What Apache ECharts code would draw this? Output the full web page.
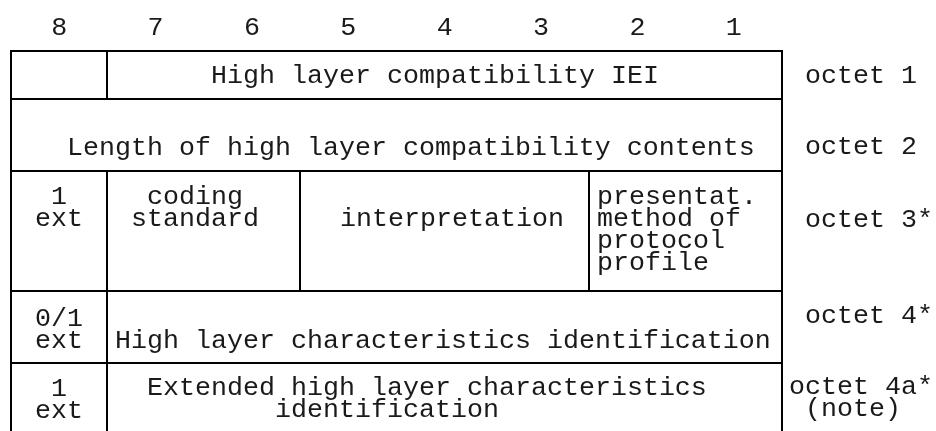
<!DOCTYPE html>
<html><head><meta charset="utf-8">
<script src="https://cdn.jsdelivr.net/npm/echarts@6/dist/echarts.min.js"></script>
<style>html,body{margin:0;padding:0;background:#fff}#c{width:936px;height:431px}</style>
</head><body><div id="c"></div>
<script>
// ---- content ----
const bitLabels = ['8','7','6','5','4','3','2','1'];
const octetLabels = [' octet 1', ' octet 2', ' octet 3*', ' octet 4*', 'octet 4a*\n (note)'];
// each cell: [first bit, last bit, text]
const row1Cells = [[8, 8, ''], [7, 1, '      High layer compatibility IEI']];
const row2Cells = [[8, 1, '   Length of high layer compatibility contents']];
const row3Cells = [[8, 8, '  1\n ext'], [7, 6, '  coding\n standard'], [5, 3, '  interpretation'], [2, 1, 'presentat.\nmethod of\nprotocol\nprofile']];
const row4Cells = [[8, 8, ' 0/1\n ext'], [7, 1, 'High layer characteristics identification']];
const row5Cells = [[8, 8, '  1\n ext'], [7, 1, '  Extended high layer characteristics\n          identification']];
const rows = [row1Cells, row2Cells, row3Cells, row4Cells, row5Cells];

// ---- layout (px) ----
const rowHeights = [48, 72, 120, 72, 120];
const cellTextMid = [[24.5, 24.5], [48.5], [26, 26, 48, 26], [27.5, 49.5], [25.5, 24.5]];
const octetTextMid = [25, 48, 49, 24.5, 24];
const FONT = "'Courier New', 'Liberation Mono', monospace";
const FS = 26.67, LH = 22, PAD = 8;
const rowTops = [];
rowHeights.reduce((acc, h, i) => { rowTops[i] = acc; return acc + h; }, 0);

const cellData = [];
rows.forEach((r, ri) => r.forEach((c, ci) => cellData.push([ri, ci])));

const chart = echarts.init(document.getElementById('c'), null, {renderer: 'canvas'});
chart.setOption({
  animation: false,
  backgroundColor: '#fff',
  grid: {left: 11, top: 51, width: 771, height: 380, containLabel: false, outerBoundsMode: 'none'},
  xAxis: [
    {type: 'value', min: 0, max: 8, show: false},
    {type: 'category', position: 'top', data: bitLabels, boundaryGap: true,
     axisLine: {show: false}, axisTick: {show: false}, splitLine: {show: false},
     axisLabel: {color: '#1a1a1a', fontFamily: FONT, fontSize: FS, margin: 10}}
  ],
  yAxis: {type: 'value', min: 0, max: 380, inverse: true, show: false},
  series: [
    {
      type: 'custom', xAxisIndex: 0, yAxisIndex: 0, data: cellData,
      renderItem: function (params, api) {
        const ri = api.value(0), ci = api.value(1);
        const cell = rows[ri][ci];
        const p0 = api.coord([8 - cell[0], rowTops[ri]]);
        const p1 = api.coord([9 - cell[1], rowTops[ri] + rowHeights[ri]]);
        const x0 = Math.round(p0[0]), y0 = Math.round(p0[1]);
        const x1 = Math.round(p1[0]), y1 = Math.round(p1[1]);
        return {
          type: 'group',
          children: [
            {type: 'rect', shape: {x: x0, y: y0, width: x1 - x0, height: y1 - y0},
             style: {fill: 'none', stroke: '#000', lineWidth: 2}},
            {type: 'text', style: {text: cell[2], x: x0 + PAD, y: y0 + cellTextMid[ri][ci] - LH / 2,
             fill: '#1a1a1a', fontFamily: FONT, fontSize: FS, lineHeight: LH, align: 'left', verticalAlign: 'top'}}
          ]
        };
      }
    },
    {
      type: 'custom', xAxisIndex: 0, yAxisIndex: 0, data: octetLabels.map((t, i) => [i]),
      renderItem: function (params, api) {
        const ri = api.value(0);
        const p = api.coord([8, rowTops[ri]]);
        return {type: 'text', style: {text: octetLabels[ri], x: Math.round(p[0]) + 7, y: p[1] + octetTextMid[ri] - LH / 2,
          fill: '#1a1a1a', fontFamily: FONT, fontSize: FS, lineHeight: LH, align: 'left', verticalAlign: 'top'}};
      }
    }
  ]
});
</script></body></html>
